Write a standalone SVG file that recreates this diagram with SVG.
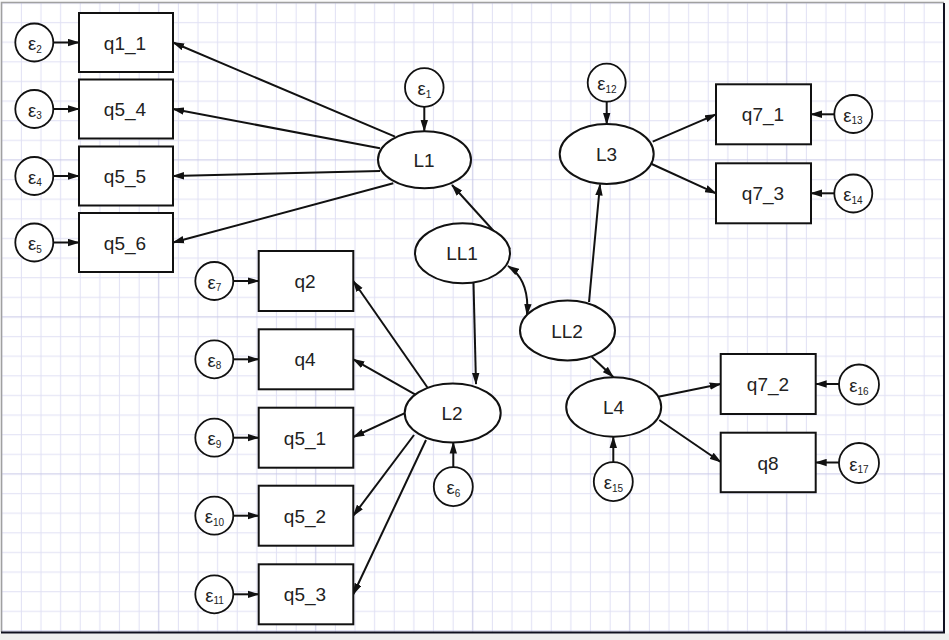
<svg xmlns="http://www.w3.org/2000/svg" width="949" height="640" viewBox="0 0 949 640">
<style>
.box{fill:#fff;stroke:#111;stroke-width:2}
.ell{fill:#fff;stroke:#111;stroke-width:2}
.err{fill:#fff;stroke:#111;stroke-width:1.8}
.lbl{font-family:"Liberation Sans",Arial,sans-serif;font-size:19px;fill:#222;text-anchor:middle}
.eps{font-family:"Liberation Sans",Arial,sans-serif;font-size:18.5px;fill:#222;text-anchor:middle}
.sub{font-size:10px}
.c line,.c path{stroke:#111;stroke-width:2;fill:none}
.c line{marker-end:url(#ah)}
</style>
<defs>
<marker id="ah" markerUnits="userSpaceOnUse" markerWidth="12" markerHeight="8" refX="11" refY="4" orient="auto"><path d="M0,0.3 L12,4 L0,7.7 z" fill="#111"/></marker>
<marker id="ah2" markerUnits="userSpaceOnUse" markerWidth="12" markerHeight="8" refX="11" refY="4" orient="auto-start-reverse"><path d="M0,0.3 L12,4 L0,7.7 z" fill="#111"/></marker>
<pattern id="grid" patternUnits="userSpaceOnUse" x="148.9" y="150.2" width="157" height="157">
<path d="M29.44,0V157M49.06,0V157M68.69,0V157M88.31,0V157M107.94,0V157M127.56,0V157M147.19,0V157M0,29.44H157M0,49.06H157M0,68.69H157M0,88.31H157M0,107.94H157M0,127.56H157M0,147.19H157" stroke="#e0e0f4" stroke-width="1"/>
<path d="M9.81,0V157M0,9.81H157" stroke="#c6c6e6" stroke-width="1"/>
</pattern>
</defs>
<rect x="0" y="0" width="949" height="640" fill="#fafafa"/>
<rect x="2" y="3" width="942" height="629.5" fill="#fff"/>
<rect x="2" y="3" width="942" height="629.5" fill="url(#grid)"/>
<rect x="0" y="633.5" width="949" height="6.5" fill="#efefef"/>
<path d="M1.5,632 V2.5 H944" stroke="#a0a0a0" stroke-width="1.5" fill="none"/>
<path d="M944,3 V632.5 H1" stroke="#101020" stroke-width="2" fill="none"/>

<g id="connectors" class="c">
<line x1="53.3" y1="42.5" x2="79" y2="42.5"/>
<line x1="53.3" y1="109" x2="79" y2="109"/>
<line x1="53.3" y1="176" x2="79" y2="176"/>
<line x1="53.3" y1="242.5" x2="79" y2="242.5"/>
<line x1="424.3" y1="106.8" x2="424.3" y2="131"/>
<line x1="395" y1="136.7" x2="173" y2="42.5"/>
<line x1="380" y1="148.3" x2="173" y2="109"/>
<line x1="380" y1="171" x2="173" y2="176"/>
<line x1="393.3" y1="183.3" x2="173" y2="242.5"/>
<line x1="606.7" y1="101.7" x2="606.7" y2="124"/>
<line x1="652.7" y1="141.7" x2="716" y2="114.3"/>
<line x1="651.7" y1="164" x2="716" y2="193.3"/>
<line x1="834.3" y1="114.3" x2="811" y2="114.3"/>
<line x1="834.3" y1="193.3" x2="811" y2="193.3"/>
<line x1="510" y1="249" x2="452" y2="185"/>
<line x1="473.5" y1="283" x2="476" y2="384"/>
<line x1="589" y1="302" x2="600" y2="184.5"/>
<line x1="591.7" y1="356.7" x2="613.3" y2="377"/>
<path d="M508,266 Q530,280 527,315" marker-start="url(#ah2)" marker-end="url(#ah2)"/>
<line x1="613.3" y1="462" x2="613.3" y2="437"/>
<line x1="658.3" y1="396.7" x2="720.7" y2="384"/>
<line x1="659.3" y1="420" x2="720.7" y2="462"/>
<line x1="839" y1="384" x2="815.7" y2="384"/>
<line x1="839" y1="462.5" x2="815.7" y2="462.5"/>
<line x1="453.3" y1="467" x2="453.3" y2="442.5"/>
<line x1="427.3" y1="387.3" x2="353.3" y2="281"/>
<line x1="415" y1="394.3" x2="353.3" y2="359.3"/>
<line x1="404.3" y1="413.3" x2="353.3" y2="437"/>
<line x1="414" y1="435" x2="353.3" y2="515.7"/>
<line x1="426" y1="440" x2="353.3" y2="594.3"/>
<line x1="233.3" y1="281" x2="258.7" y2="281"/>
<line x1="233.3" y1="359.3" x2="258.7" y2="359.3"/>
<line x1="233.3" y1="437.7" x2="258.7" y2="437.7"/>
<line x1="233.3" y1="515.7" x2="258.7" y2="515.7"/>
<line x1="233.3" y1="594.3" x2="258.7" y2="594.3"/>
</g>

<g id="e2"><circle class="err" cx="34.3" cy="42.5" r="19"/><text class="eps" x="35" y="50">ε<tspan class="sub" dy="2.5">2</tspan></text></g>
<g id="e3"><circle class="err" cx="34.3" cy="109" r="19"/><text class="eps" x="35" y="116.5">ε<tspan class="sub" dy="2.5">3</tspan></text></g>
<g id="e4"><circle class="err" cx="34.3" cy="176" r="19"/><text class="eps" x="35" y="183.5">ε<tspan class="sub" dy="2.5">4</tspan></text></g>
<g id="e5"><circle class="err" cx="34.3" cy="242.5" r="19"/><text class="eps" x="35" y="250">ε<tspan class="sub" dy="2.5">5</tspan></text></g>
<g id="q1_1"><rect class="box" x="79" y="13" width="94" height="59"/><text class="lbl" x="125" y="49.5">q1_1</text></g>
<g id="q5_4"><rect class="box" x="79" y="79.5" width="94" height="59"/><text class="lbl" x="125" y="116">q5_4</text></g>
<g id="q5_5"><rect class="box" x="79" y="146.5" width="94" height="59"/><text class="lbl" x="125" y="183">q5_5</text></g>
<g id="q5_6"><rect class="box" x="79" y="213" width="94" height="59"/><text class="lbl" x="125" y="249.5">q5_6</text></g>

<g id="e1"><circle class="err" cx="424.3" cy="87.5" r="19.3"/><text class="eps" x="424.5" y="95">ε<tspan class="sub" dy="2.5">1</tspan></text></g>
<g id="L1"><ellipse class="ell" cx="424.5" cy="159.7" rx="46.5" ry="28.5"/><text class="lbl" x="424" y="166.5">L1</text></g>

<g id="e12"><circle class="err" cx="606.7" cy="82.7" r="19"/><text class="eps" x="607" y="90">ε<tspan class="sub" dy="2.5">12</tspan></text></g>
<g id="L3"><ellipse class="ell" cx="606.7" cy="154" rx="47" ry="30"/><text class="lbl" x="606.5" y="161">L3</text></g>
<g id="q7_1"><rect class="box" x="716" y="84.3" width="95" height="60"/><text class="lbl" x="763" y="121.3">q7_1</text></g>
<g id="q7_3"><rect class="box" x="716" y="163.3" width="95" height="60"/><text class="lbl" x="763" y="200.3">q7_3</text></g>
<g id="e13"><circle class="err" cx="853.3" cy="114" r="19"/><text class="eps" x="853" y="121.5">ε<tspan class="sub" dy="2.5">13</tspan></text></g>
<g id="e14"><circle class="err" cx="853.3" cy="193.5" r="19"/><text class="eps" x="853" y="201">ε<tspan class="sub" dy="2.5">14</tspan></text></g>

<g id="LL1"><ellipse class="ell" cx="462.5" cy="253.3" rx="47.5" ry="30"/><text class="lbl" x="462" y="260.3">LL1</text></g>
<g id="LL2"><ellipse class="ell" cx="567.5" cy="330.5" rx="47.5" ry="30"/><text class="lbl" x="567" y="337.5">LL2</text></g>

<g id="L4"><ellipse class="ell" cx="613.7" cy="407" rx="47.5" ry="29.7"/><text class="lbl" x="613.5" y="414">L4</text></g>
<g id="e15"><circle class="err" cx="613.3" cy="481.7" r="19.5"/><text class="eps" x="613.5" y="489">ε<tspan class="sub" dy="2.5">15</tspan></text></g>
<g id="q7_2"><rect class="box" x="720.7" y="354" width="95" height="60"/><text class="lbl" x="768" y="391">q7_2</text></g>
<g id="q8"><rect class="box" x="720.7" y="432.7" width="95" height="59.5"/><text class="lbl" x="768" y="469.5">q8</text></g>
<g id="e16"><circle class="err" cx="859" cy="384.5" r="20"/><text class="eps" x="859" y="392">ε<tspan class="sub" dy="2.5">16</tspan></text></g>
<g id="e17"><circle class="err" cx="859" cy="463" r="20"/><text class="eps" x="859" y="470.5">ε<tspan class="sub" dy="2.5">17</tspan></text></g>

<g id="L2"><ellipse class="ell" cx="452.7" cy="413" rx="48" ry="29.5"/><text class="lbl" x="452" y="420">L2</text></g>
<g id="e6"><circle class="err" cx="453.3" cy="486.7" r="19.5"/><text class="eps" x="453.5" y="494">ε<tspan class="sub" dy="2.5">6</tspan></text></g>
<g id="q2"><rect class="box" x="258.7" y="251" width="94.6" height="60"/><text class="lbl" x="305" y="288">q2</text></g>
<g id="q4"><rect class="box" x="258.7" y="329.3" width="94.6" height="60"/><text class="lbl" x="305" y="366.3">q4</text></g>
<g id="q5_1"><rect class="box" x="258.7" y="407.7" width="94.6" height="60"/><text class="lbl" x="305" y="444.7">q5_1</text></g>
<g id="q5_2"><rect class="box" x="258.7" y="485.7" width="94.6" height="60"/><text class="lbl" x="305" y="522.7">q5_2</text></g>
<g id="q5_3"><rect class="box" x="258.7" y="564.3" width="94.6" height="60"/><text class="lbl" x="305" y="601.3">q5_3</text></g>
<g id="e7"><circle class="err" cx="214.3" cy="281" r="19"/><text class="eps" x="214.5" y="288.5">ε<tspan class="sub" dy="2.5">7</tspan></text></g>
<g id="e8"><circle class="err" cx="214.3" cy="359.3" r="19"/><text class="eps" x="214.5" y="366.8">ε<tspan class="sub" dy="2.5">8</tspan></text></g>
<g id="e9"><circle class="err" cx="214.3" cy="437.7" r="19"/><text class="eps" x="214.5" y="445.2">ε<tspan class="sub" dy="2.5">9</tspan></text></g>
<g id="e10"><circle class="err" cx="214.3" cy="515.7" r="19"/><text class="eps" x="214.5" y="523.2">ε<tspan class="sub" dy="2.5">10</tspan></text></g>
<g id="e11"><circle class="err" cx="214.3" cy="594.3" r="19"/><text class="eps" x="214.5" y="601.8">ε<tspan class="sub" dy="2.5">11</tspan></text></g>
</svg>
